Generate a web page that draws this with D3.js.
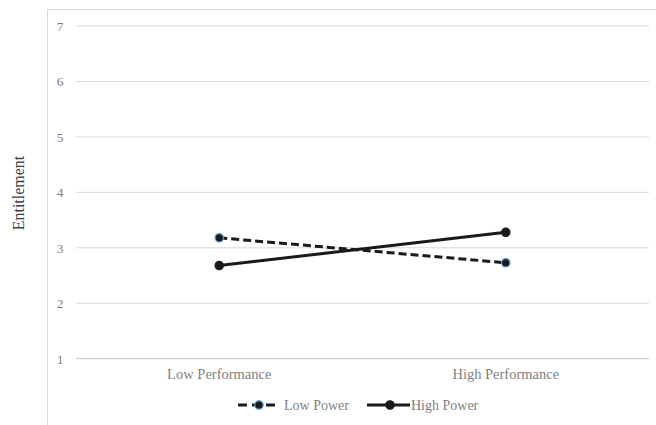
<!DOCTYPE html>
<html><head><meta charset="utf-8">
<script src="https://cdn.jsdelivr.net/npm/d3@7"></script>
<style>body{margin:0;background:#fff;overflow:hidden}svg{display:block}</style>
</head><body>
<svg id="c" width="656" height="425"></svg>
<script>
const categories = ["Low Performance", "High Performance"];
const seriesNames = ["Low Power", "High Power"];
const lowPower = [3.18, 2.73];
const highPower = [2.68, 3.28];
const yTicks = [1, 2, 3, 4, 5, 6, 7];

(function () {
const svg = d3.select("#c");
const font = "'Liberation Serif','Times New Roman',serif";
const pLeft = 76, pRight = 649, pTop = 26, pBottom = 358.7;

// outer chart border
svg.append("rect").attr("x", 47.5).attr("y", 9.5).attr("width", 700).attr("height", 500)
  .attr("fill", "none").attr("stroke", "#d9d9d9").attr("stroke-width", 1);

const x = d3.scaleBand().domain(categories).range([pLeft, pRight]);
const y = d3.scaleLinear().domain([1, 7]).range([pBottom, pTop]);

// gridlines
svg.append("g").selectAll("line").data(yTicks.filter(d => d !== 1)).join("line")
  .attr("x1", pLeft).attr("x2", pRight).attr("y1", d => y(d)).attr("y2", d => y(d))
  .attr("stroke", "#d9d9d9").attr("stroke-width", 1);
// x axis line
svg.append("line").attr("x1", pLeft).attr("x2", pRight).attr("y1", y(1)).attr("y2", y(1))
  .attr("stroke", "#cfcfcf").attr("stroke-width", 1.2);

// y tick labels
const yAxis = d3.axisLeft(y).tickValues(yTicks).tickFormat(d3.format("d")).tickSize(0).tickPadding(0);
const ya = svg.append("g").attr("transform", `translate(60,0)`).call(yAxis);
ya.select(".domain").remove();
ya.selectAll("text").attr("font-family", font).attr("font-size", 13.5).attr("fill", "#7f7f7f")
  .attr("text-anchor", "middle").attr("x", 0);

// x labels
const xAxis = d3.axisBottom(x).tickSize(0).tickPadding(0);
const xa = svg.append("g").attr("transform", `translate(0,${y(1) + 10})`).call(xAxis);
xa.select(".domain").remove();
xa.selectAll("text").attr("font-family", font).attr("font-size", 14.5).attr("fill", "#7f7f7f");

// y title
svg.append("text").attr("transform", `translate(24,193) rotate(-90)`)
  .attr("text-anchor", "middle").attr("font-family", font).attr("font-size", 16)
  .attr("fill", "#404040").text("Entitlement");

const cx = d => x(d) + x.bandwidth() / 2;
const line = d3.line().x((d, i) => cx(categories[i])).y(d => y(d));

const series = [
  {name: seriesNames[0], values: lowPower, dash: "8,4", ms: "#5b9bd5"},
  {name: seriesNames[1], values: highPower, dash: null, ms: "#1a1a1a"}
];

series.forEach(s => {
  svg.append("path").datum(s.values).attr("d", line).attr("fill", "none")
    .attr("stroke", "#1a1a1a").attr("stroke-width", 3).attr("stroke-dasharray", s.dash);
});
series.forEach(s => {
  svg.append("g").selectAll("circle").data(s.values).join("circle")
    .attr("cx", (d, i) => cx(categories[i])).attr("cy", d => y(d)).attr("r", 4.2)
    .attr("fill", "#1a1a1a").attr("stroke", s.ms).attr("stroke-width", 1.2);
});

// legend
const ly = 405;
const leg = [
  {x1: 238, x2: 277, mx: 259, tx: 284},
  {x1: 367, x2: 410, mx: 390, tx: 411}
];
series.forEach((s, i) => {
  const L = leg[i];
  svg.append("line").attr("x1", L.x1).attr("x2", L.x2).attr("y1", ly).attr("y2", ly)
    .attr("stroke", "#1a1a1a").attr("stroke-width", 3).attr("stroke-dasharray", s.dash ? "9,5" : null);
  svg.append("circle").attr("cx", L.mx).attr("cy", ly).attr("r", 4.2)
    .attr("fill", "#1a1a1a").attr("stroke", s.ms).attr("stroke-width", 1.2);
  svg.append("text").attr("x", L.tx).attr("y", ly + 4.5).attr("font-family", font)
    .attr("font-size", 14).attr("fill", "#7f7f7f").text(s.name);
});
})();
</script>
</body></html>
